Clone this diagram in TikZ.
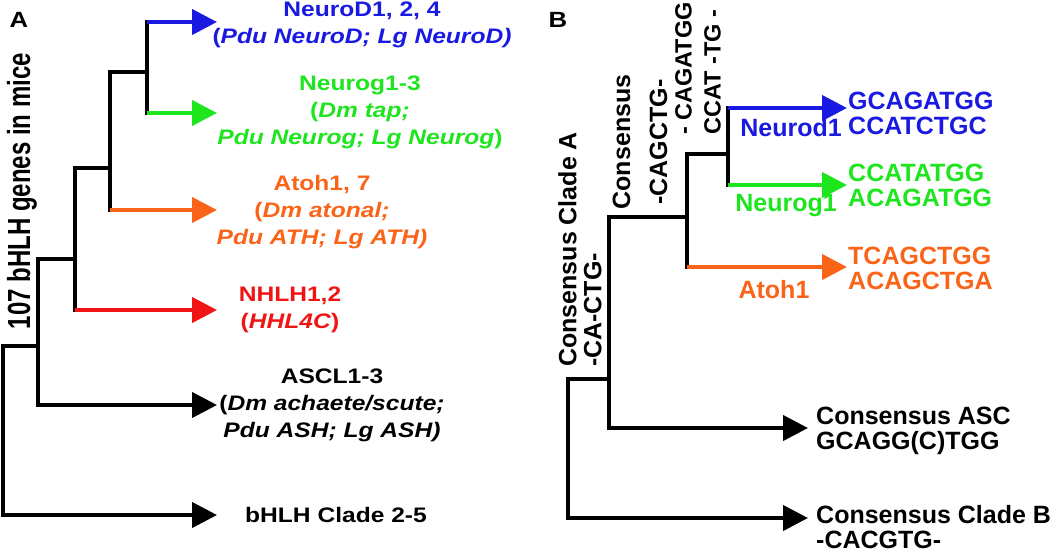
\documentclass[tikz,border=0pt]{standalone}
\usepackage{fontspec}
\setmainfont{Liberation Sans}
\newfontfamily\widefont[FakeStretch=1.17]{Liberation Sans}
\newfontfamily\slimfont[FakeStretch=0.75]{Liberation Sans}
\usetikzlibrary{arrows.meta}
\definecolor{ndblue}{RGB}{25,25,225}
\definecolor{nggreen}{RGB}{30,230,30}
\definecolor{atorange}{RGB}{250,100,25}
\definecolor{nhred}{RGB}{240,20,20}
\tikzset{
  tree/.style={line width=4.2pt, line cap=rect},
  arr/.style={line width=4.2pt, -{Triangle[length=25pt,width=25pt]}},
  lab/.style={font=\widefont\fontsize{21}{27}\selectfont\bfseries, align=center, inner sep=0pt},
  blab/.style={font=\fontsize{25}{25}\selectfont\bfseries, align=center, inner sep=0pt},
  seq/.style={blab, align=left, anchor=west},
  vlab/.style={blab, rotate=90},
  panel/.style={font=\widefont\fontsize{22}{26}\selectfont\bfseries, inner sep=0pt},
}
\begin{document}
\begin{tikzpicture}[x=1pt,y=-1pt]
\useasboundingbox (0,0) rectangle (1050,555);
% panel A
\node[panel] (pa) at (19,20) {A};
\coordinate (nd) at (147,22);
\coordinate (ng) at (147,113);
\coordinate (at) at (110,210);
\coordinate (nh) at (75,310);
\coordinate (as) at (38,405);
\coordinate (cl) at (3,515);
\coordinate (j1) at (147,72);
\coordinate (j2) at (110,168);
\coordinate (j3) at (75,259);
\coordinate (j4) at (38,346);
\coordinate (tipa) at (217,0);
\draw[tree] (nd) -- (ng);
\draw[tree] (at) |- (j1);
\draw[tree] (nh) |- (j2);
\draw[tree] (as) |- (j3);
\draw[tree] (cl) |- (j4);
\draw[arr, ndblue] (nd) -- (nd -| tipa);
\draw[arr, nggreen] (ng) -- (ng -| tipa);
\draw[arr, atorange] (at) -- (at -| tipa);
\draw[arr, nhred] (nh) -- (nh -| tipa);
\draw[arr] (as) -- (as -| tipa);
\draw[arr] (cl) -- (cl -| tipa);
\node[rotate=90, anchor=base, inner sep=0pt, font=\slimfont\fontsize{32}{32}\selectfont\bfseries] (mice) at (30,191) {107 bHLH genes in mice};
\node[lab, ndblue] (ndlab) at (362,25) {NeuroD1, 2, 4\\(\textit{Pdu NeuroD; Lg NeuroD)}};
\node[lab, nggreen] (nglab) at (360,112) {Neurog1-3\\(\textit{Dm tap;}\\\textit{Pdu Neurog; Lg Neurog})};
\node[lab, atorange] (atlab) at (322,212) {Atoh1, 7\\(\textit{Dm atonal;}\\\textit{Pdu ATH; Lg ATH)}};
\node[lab, nhred] (nhlab) at (290,310) {NHLH1,2\\(\textit{HHL4C})};
\node[lab] (aslab) at (332,405) {ASCL1-3\\(\textit{Dm achaete/scute;}\\\textit{Pdu ASH; Lg ASH)}};
\node[lab] (cllab) at (336,515) {bHLH Clade 2-5};
% panel B
\node[panel] (pb) at (558,20) {B};
\coordinate (bnd) at (728,108);
\coordinate (bng) at (728,185);
\coordinate (bat) at (687,267);
\coordinate (bas) at (609,428);
\coordinate (bcb) at (568,518);
\coordinate (k1) at (728,154);
\coordinate (k2) at (687,217);
\coordinate (k3) at (609,379);
\coordinate (tipb) at (847,0);
\coordinate (tipc) at (808,0);
\draw[tree] (bnd) -- (bng);
\draw[tree] (bat) |- (k1);
\draw[tree] (bas) |- (k2);
\draw[tree] (bcb) |- (k3);
\draw[arr, ndblue] (bnd) -- (bnd -| tipb);
\draw[arr, nggreen] (bng) -- (bng -| tipb);
\draw[arr, atorange] (bat) -- (bat -| tipb);
\draw[arr] (bas) -- (bas -| tipc);
\draw[arr] (bcb) -- (bcb -| tipc);
\node[vlab, align=left, anchor=west] (cladea) at (580,367) {Consensus Clade A\\-CA-CTG-};
\node[vlab] (cons) at (640,142) {Consensus\\[12pt]-CAGCTG-};
\node[vlab, align=left, anchor=west, font=\fontsize{23.5}{25}\selectfont\bfseries] (cagatgg) at (698,135) {- CAGATGG\\[4pt]CCAT -TG -};
\node[blab, ndblue] (b1) at (791,128) {Neurod1};
\node[blab, nggreen] (b2) at (786,206) {Neurog1};
\node[blab, atorange] (b3) at (774,290) {Atoh1};
\node[seq, ndblue] (s1) at (848,113) {GCAGATGG\\CCATCTGC};
\node[seq, nggreen] (s2) at (848,185) {CCATATGG\\ACAGATGG};
\node[seq, atorange] (s3) at (848,268) {TCAGCTGG\\ACAGCTGA};
\node[seq] (s4) at (816,431) {Consensus ASC\\GCAGG(C)TGG};
\node[seq] (s5) at (816,527) {Consensus Clade B\\-CACGTG-};
\end{tikzpicture}
\end{document}
